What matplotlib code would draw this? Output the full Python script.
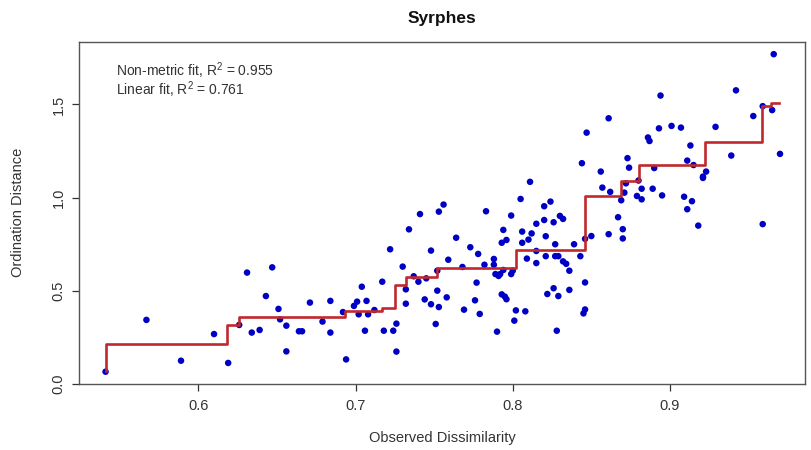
import matplotlib
matplotlib.use("Agg")
import matplotlib.pyplot as plt

plt.rcParams['font.family'] = ['Liberation Sans', 'DejaVu Sans']
plt.rcParams['mathtext.fontset'] = 'custom'
plt.rcParams['mathtext.rm'] = 'Liberation Sans'
plt.rcParams['mathtext.it'] = 'Liberation Sans'

# observed dissimilarity vs ordination distance (Shepard diagram)
observed = [
    0.541, 0.567, 0.589, 0.610, 0.619, 0.626, 0.631, 0.634, 0.639, 0.643,
    0.647, 0.651, 0.652, 0.656, 0.656, 0.664, 0.666, 0.671, 0.679, 0.684,
    0.684, 0.692, 0.694, 0.699, 0.701, 0.702, 0.704, 0.706, 0.707, 0.708,
    0.712, 0.717, 0.718, 0.722, 0.724, 0.726, 0.726, 0.730, 0.732, 0.732,
    0.734, 0.737, 0.740, 0.741, 0.744, 0.745, 0.748, 0.748, 0.751, 0.753,
    0.752, 0.753, 0.756, 0.758, 0.759, 0.764, 0.768, 0.769, 0.773, 0.776,
    0.777, 0.778, 0.779, 0.782, 0.783, 0.788, 0.788, 0.789, 0.790, 0.791,
    0.792, 0.793, 0.794, 0.793, 0.795, 0.796, 0.796, 0.799, 0.799, 0.800,
    0.801, 0.802, 0.805, 0.806, 0.806, 0.808, 0.809, 0.810, 0.811, 0.812,
    0.815, 0.815, 0.815, 0.820, 0.820, 0.821, 0.821, 0.822, 0.824, 0.826,
    0.826, 0.827, 0.827, 0.828, 0.829, 0.829, 0.830, 0.832, 0.832, 0.834,
    0.836, 0.836, 0.839, 0.843, 0.844, 0.845, 0.846, 0.846, 0.846, 0.847,
    0.850, 0.856, 0.857, 0.861, 0.861, 0.862, 0.867, 0.869, 0.870, 0.870,
    0.871, 0.872, 0.873, 0.874, 0.879, 0.880, 0.882, 0.882, 0.886, 0.887,
    0.889, 0.890, 0.893, 0.894, 0.895, 0.901, 0.907, 0.909, 0.911, 0.911,
    0.913, 0.914, 0.915, 0.918, 0.921, 0.921, 0.923, 0.929, 0.939, 0.942,
    0.953, 0.959, 0.959, 0.965, 0.966, 0.970, 0.752, 0.794,
]
distance = [
    0.066, 0.344, 0.125, 0.268, 0.113, 0.317, 0.598, 0.276, 0.290, 0.472,
    0.626, 0.403, 0.347, 0.175, 0.313, 0.283, 0.283, 0.437, 0.335, 0.446,
    0.276, 0.386, 0.132, 0.419, 0.442, 0.374, 0.522, 0.286, 0.446, 0.374,
    0.397, 0.549, 0.286, 0.723, 0.286, 0.324, 0.174, 0.630, 0.508, 0.431,
    0.830, 0.578, 0.549, 0.912, 0.454, 0.567, 0.716, 0.428, 0.322, 0.413,
    0.501, 0.925, 0.963, 0.465, 0.667, 0.785, 0.628, 0.399, 0.734, 0.449,
    0.544, 0.698, 0.376, 0.640, 0.927, 0.671, 0.640, 0.590, 0.281, 0.580,
    0.590, 0.758, 0.827, 0.481, 0.469, 0.455, 0.773, 0.904, 0.590, 0.608,
    0.340, 0.395, 0.993, 0.758, 0.818, 0.390, 0.673, 0.775, 1.085, 0.808,
    0.649, 0.860, 0.714, 0.954, 0.880, 0.793, 0.686, 0.483, 0.979, 0.868,
    0.514, 0.750, 0.686, 0.286, 0.686, 0.472, 0.902, 0.886, 0.658, 0.645,
    0.505, 0.608, 0.750, 0.686, 1.185, 0.379, 0.400, 0.545, 0.779, 1.349,
    0.794, 1.140, 1.054, 1.426, 0.804, 1.031, 0.895, 0.986, 0.831, 0.781,
    1.027, 1.077, 1.212, 1.161, 1.009, 1.092, 1.048, 0.991, 1.323, 1.304,
    1.048, 1.159, 1.372, 1.548, 1.012, 1.385, 1.376, 1.005, 1.199, 0.938,
    1.280, 0.981, 1.175, 0.850, 1.106, 1.113, 1.140, 1.380, 1.226, 1.576,
    1.438, 0.858, 1.491, 1.470, 1.770, 1.235, 0.608, 0.612,
]

# monotone (isotonic) fit, drawn as steps
fit_x = [0.541, 0.541, 0.6183, 0.626, 0.6930, 0.7167, 0.7251, 0.7321,
         0.7520, 0.8019, 0.8461, 0.8689, 0.8806, 0.9223, 0.9584, 0.9645, 0.9696]
fit_y = [0.068, 0.215, 0.317, 0.361, 0.393, 0.410, 0.530, 0.576,
         0.621, 0.720, 1.009, 1.087, 1.175, 1.297, 1.490, 1.507, 1.507]

fig = plt.figure(figsize=(8.11, 4.5), dpi=100)
ax = fig.add_axes([79.3 / 811, 66 / 450, 725.7 / 811, 342.3 / 450])

ax.scatter(observed, distance, s=22, color='#0000c4', edgecolors='none', zorder=2)
ax.plot(fit_x, fit_y, drawstyle='steps-post', color='#c0282d', lw=1.9, zorder=3)

ax.set_xlim(0.5243, 0.9859)
ax.set_ylim(0, 1.837)
ax.set_xticks([0.6, 0.7, 0.8, 0.9])
ax.set_xticklabels(['0.6', '0.7', '0.8', '0.9'])
ax.set_yticks([0.0, 0.5, 1.0, 1.5])
ax.set_yticklabels(['0.0', '0.5', '1.0', '1.5'])
ax.tick_params(length=5, width=0.9, color='#333333', labelcolor='#333333',
               labelsize=10.5)
ax.tick_params(axis='x', pad=6)
ax.tick_params(axis='y', pad=5, labelrotation=90)
for lab in ax.get_yticklabels():
    lab.set_va('center')

for sp in ax.spines.values():
    sp.set_color('#555555')
    sp.set_linewidth(1.0)

ax.set_xlabel('Observed Dissimilarity', fontsize=10.5, color='#333333')
ax.set_ylabel('Ordination Distance', fontsize=10.5, color='#333333')
ax.xaxis.set_label_coords(0.5, -0.158)
ax.yaxis.set_label_coords(-0.0845, 0.5)
ax.xaxis.label.set_va('center')
ax.yaxis.label.set_va('center')

ax.text(0.5, 1.069, 'Syrphes', transform=ax.transAxes, ha='center', va='center',
        fontsize=12.5, fontweight='bold', color='#111111')

ax.text(0.0502, 0.9005, r'Non-metric fit, R$^2$ = 0.955', transform=ax.transAxes,
        ha='left', va='baseline', fontsize=10, color='#333333')
ax.text(0.0502, 0.845, r'Linear fit, R$^2$ = 0.761', transform=ax.transAxes,
        ha='left', va='baseline', fontsize=10, color='#333333')

fig.savefig('out.png', dpi=100)
